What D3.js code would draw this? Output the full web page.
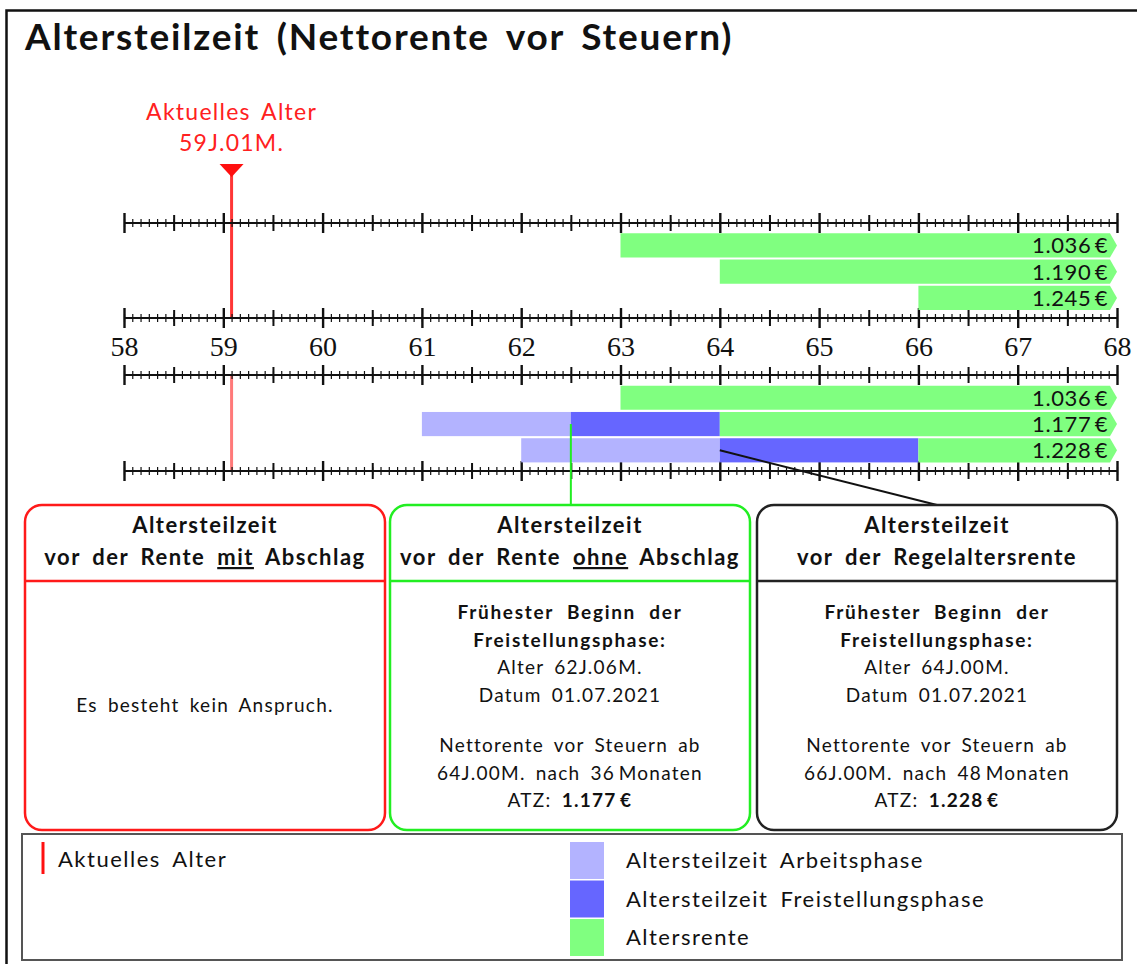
<!DOCTYPE html>
<html>
<head>
<meta charset="utf-8">
<script src="https://cdn.jsdelivr.net/npm/d3@7"></script>
<style>
  body { margin: 0; background: #fff; }
  svg { display: block; }
  text { font-family: Lato, 'Open Sans', sans-serif; fill: #111; letter-spacing: 1.25px; word-spacing: 4px; }
  .num text { font-family: 'Liberation Serif', serif; font-size: 28px; fill: #111; letter-spacing: 0; word-spacing: 0; }
</style>
</head>
<body>
<script>
// chart data
const tickYears = [58, 59, 60, 61, 62, 63, 64, 65, 66, 67, 68];
const currentAge = 59 + 1 / 12;
const currentAgeLabel = ['Aktuelles Alter', '59J.01M.'];
const endAge = 68;

// upper block: Altersrente only
const topRenteStart = [63, 64, 66];
const topRenteValue = ['1.036\u2009€', '1.190\u2009€', '1.245\u2009€'];

// lower block: Altersteilzeit + Altersrente
const atzArbeitStart = [null, 61, 62];
const atzFreiStart = [null, 62.5, 64];
const atzRenteStart = [63, 64, 66];
const atzRenteValue = ['1.036\u2009€', '1.177\u2009€', '1.228\u2009€'];

const boxTitleLines = [
  [['vor der Rente ', false], ['mit', true], [' Abschlag', false]],
  [['vor der Rente ', false], ['ohne', true], [' Abschlag', false]],
  [['vor der Regelaltersrente', false]]
];
const boxColors = ['#ff1a1a', '#22ee22', '#222'];
const beginAlter = [null, '62J.06M.', '64J.00M.'];
const beginDatum = [null, '01.07.2021', '01.07.2021'];
const renteAb = [null, '64J.00M.', '66J.00M.'];
const nachMonaten = [null, 36, 48];
const atzValue = [null, '1.177\u2009€', '1.228\u2009€'];

const legendBars = ['Altersteilzeit Arbeitsphase', 'Altersteilzeit Freistellungsphase', 'Altersrente'];
const col = { arbeit: '#b3b3ff', frei: '#6666ff', rente: '#80ff80' };
const legendColors = [col.arbeit, col.frei, col.rente];

const width = 1137, height = 964;

const svg = d3.select('body')
  .append('svg')
  .attr('width', width)
  .attr('height', height);

// outer frame (top and left only visible)
svg.append('path')
  .attr('d', 'M6.5,964 V10.5 H1137')
  .attr('fill', 'none')
  .attr('stroke', '#111')
  .attr('stroke-width', 2.5);

svg.append('text')
  .attr('x', 25)
  .attr('y', 50)
  .style('font-size', '37px')
  .style('font-weight', 'bold')
  .style('letter-spacing', '1.8px')
  .style('word-spacing', '6px')
  .text('Altersteilzeit (Nettorente vor Steuern)');

const x = d3.scaleLinear().domain([58, 68]).range([124, 1117]);

const monthTicks = d3.range(58 * 12, 68 * 12 + 1).map((m) => m / 12);
const halfTicks = d3.range(58 * 2, 68 * 2 + 1).filter((h) => h % 2).map((h) => h / 2);

function drawAxis(y) {
  const g = svg.append('g');
  [[monthTicks, 4, 1.2], [halfTicks, 8, 2], [tickYears, 10, 2.4]].forEach(function(t) {
    g.append('g')
      .attr('transform', 'translate(0,' + (y - t[1]) + ')')
      .call(d3.axisBottom(x).tickValues(t[0]).tickSize(t[1] * 2).tickFormat(''))
      .call((a) => a.select('.domain').remove())
      .selectAll('line')
      .attr('stroke', '#111')
      .attr('stroke-width', t[2]);
  });
  g.append('line')
    .attr('x1', x(58)).attr('x2', x(68))
    .attr('y1', y).attr('y2', y)
    .attr('stroke', '#111')
    .attr('stroke-width', 2);
}

const axisY = [223, 318, 375, 471];

// current age marker
svg.append('line')
  .attr('x1', x(currentAge)).attr('x2', x(currentAge))
  .attr('y1', 170).attr('y2', axisY[1])
  .attr('stroke', '#ff2020')
  .attr('stroke-opacity', 0.9)
  .attr('stroke-width', 3);
svg.append('line')
  .attr('x1', x(currentAge)).attr('x2', x(currentAge))
  .attr('y1', axisY[2]).attr('y2', axisY[3])
  .attr('stroke', '#ff2020')
  .attr('stroke-opacity', 0.6)
  .attr('stroke-width', 3);
svg.append('path')
  .attr('d', 'M' + (x(currentAge) - 12) + ',164 H' + (x(currentAge) + 12) + ' L' + x(currentAge) + ',177 Z')
  .attr('fill', '#ff1010');
svg.selectAll('.agelabel')
  .data(currentAgeLabel)
  .enter()
  .append('text')
  .attr('x', x(currentAge))
  .attr('y', (d, i) => 120 + i * 31)
  .attr('text-anchor', 'middle')
  .style('font-size', '23px')
  .style('fill', '#ff2020')
  .text((d) => d);

axisY.forEach(drawAxis);

svg.append('g')
  .attr('class', 'num')
  .attr('transform', 'translate(0,' + 334 + ')')
  .call(d3.axisBottom(x).tickValues(tickYears).tickSize(0).tickPadding(0).tickFormat(d3.format('d')))
  .call((a) => a.select('.domain').remove())
  .selectAll('text')
  .attr('dy', '0.78em');

// bars
const topRows = d3.scaleBand().domain([0, 1, 2]).range([233.3, 310]).paddingInner(0.08);
const botRows = d3.scaleBand().domain([0, 1, 2]).range([385.7, 462.4]).paddingInner(0.08);

function arrowBar(g, start, y, h) {
  const x0 = x(start), x1 = x(endAge) - 7, x2 = x(endAge);
  g.append('path')
    .attr('d', 'M' + x0 + ',' + y + ' H' + x1 + ' L' + x2 + ',' + (y + h / 2) + ' L' + x1 + ',' + (y + h) + ' H' + x0 + ' Z')
    .attr('fill', col.rente);
}

function valueLabel(g, txt, y, h) {
  g.append('text')
    .attr('x', x(endAge) - 9)
    .attr('y', y + h / 2)
    .attr('dy', '0.36em')
    .attr('text-anchor', 'end')
    .style('font-size', '22px')
    .style('letter-spacing', '0.6px')
    .text(txt);
}

const topG = svg.append('g');
topRenteStart.forEach(function(s, i) {
  arrowBar(topG, s, topRows(i), topRows.bandwidth());
  valueLabel(topG, topRenteValue[i], topRows(i), topRows.bandwidth());
});

const botG = svg.append('g');
atzRenteStart.forEach(function(s, i) {
  const y = botRows(i), h = botRows.bandwidth();
  if (atzArbeitStart[i] !== null) {
    botG.append('rect')
      .attr('x', x(atzArbeitStart[i])).attr('y', y)
      .attr('width', x(atzFreiStart[i]) - x(atzArbeitStart[i])).attr('height', h)
      .attr('fill', col.arbeit);
    botG.append('rect')
      .attr('x', x(atzFreiStart[i])).attr('y', y)
      .attr('width', x(s) - x(atzFreiStart[i])).attr('height', h)
      .attr('fill', col.frei);
  }
  arrowBar(botG, s, y, h);
  valueLabel(botG, atzRenteValue[i], y, h);
});

// boxes
const boxLeft = [25, 390, 757], boxW = 360, boxTop = 505, boxBottom = 830, boxSep = 581;

// connectors from bars to boxes
svg.append('line')
  .attr('x1', x(atzFreiStart[1])).attr('x2', x(atzFreiStart[1]))
  .attr('y1', botRows(1) + botRows.bandwidth() / 2).attr('y2', boxTop)
  .attr('stroke', '#22ee22').attr('stroke-width', 2);
svg.append('line')
  .attr('x1', x(atzFreiStart[2])).attr('x2', boxLeft[2] + boxW / 2)
  .attr('y1', botRows(2) + botRows.bandwidth() / 2).attr('y2', boxTop)
  .attr('stroke', '#111').attr('stroke-width', 2);

boxLeft.forEach(function(bx, i) {
  const g = svg.append('g');
  const cx = bx + boxW / 2;
  g.append('rect')
    .attr('x', bx).attr('y', boxTop)
    .attr('width', boxW).attr('height', boxBottom - boxTop)
    .attr('rx', 17)
    .attr('fill', 'none')
    .attr('stroke', boxColors[i])
    .attr('stroke-width', 2.5);
  g.append('line')
    .attr('x1', bx).attr('x2', bx + boxW)
    .attr('y1', boxSep).attr('y2', boxSep)
    .attr('stroke', boxColors[i])
    .attr('stroke-width', 2.5);
  g.append('text')
    .attr('x', cx).attr('y', 533)
    .attr('text-anchor', 'middle')
    .style('font-size', '22px').style('font-weight', 'bold')
    .style('letter-spacing', '1.5px')
    .text('Altersteilzeit');
  const t2 = g.append('text')
    .attr('x', cx).attr('y', 565)
    .attr('text-anchor', 'middle')
    .style('font-size', '22px').style('font-weight', 'bold')
    .style('letter-spacing', '1.5px')
    .style('word-spacing', '5px')
    .style('white-space', 'pre');
  boxTitleLines[i].forEach(function(p) {
    t2.append('tspan')
      .attr('text-decoration', p[1] ? 'underline' : null)
      .text(p[0]);
  });

  if (beginAlter[i] === null) {
    g.append('text')
      .attr('x', cx).attr('y', 712)
      .attr('text-anchor', 'middle')
      .style('font-size', '19px')
      .text('Es besteht kein Anspruch.');
    return;
  }
  const lines = [
    ['Frühester Beginn der', true, 619],
    ['Freistellungsphase:', true, 646.5],
    ['Alter ' + beginAlter[i], false, 673.5],
    ['Datum ' + beginDatum[i], false, 701.5],
    ['Nettorente vor Steuern ab', false, 752],
    [renteAb[i] + ' nach ' + nachMonaten[i] + '\u2009Monaten', false, 780]
  ];
  lines.forEach(function(l) {
    g.append('text')
      .attr('x', cx).attr('y', l[2])
      .attr('text-anchor', 'middle')
      .style('font-size', '19px')
      .style('font-weight', l[1] ? 'bold' : 'normal')
      .style('letter-spacing', l[1] ? '1.7px' : null)
      .style('word-spacing', l[1] ? '7px' : null)
      .text(l[0]);
  });
  const last = g.append('text')
    .attr('x', cx).attr('y', 807)
    .attr('text-anchor', 'middle')
    .style('font-size', '19px');
  last.append('tspan').text('ATZ: ');
  last.append('tspan').style('font-weight', 'bold').text(atzValue[i]);
});

// legend
const lg = svg.append('g');
lg.append('rect')
  .attr('x', 22).attr('y', 834)
  .attr('width', 1100).attr('height', 126)
  .attr('fill', 'none')
  .attr('stroke', '#555')
  .attr('stroke-width', 2);
lg.append('line')
  .attr('x1', 43).attr('x2', 43)
  .attr('y1', 842).attr('y2', 874)
  .attr('stroke', '#ff1010').attr('stroke-width', 3);
lg.append('text')
  .attr('x', 58).attr('y', 867)
  .style('font-size', '22px')
  .style('letter-spacing', '1.5px')
  .style('word-spacing', '5px')
  .text('Aktuelles Alter');

const legendY = d3.scaleBand().domain(legendBars).range([842, 956]).paddingInner(0.04);
lg.selectAll('.sw')
  .data(legendBars)
  .enter()
  .append('rect')
  .attr('x', 570)
  .attr('y', (d) => legendY(d))
  .attr('width', 34)
  .attr('height', legendY.bandwidth())
  .attr('fill', (d, i) => legendColors[i]);
lg.selectAll('.lt')
  .data(legendBars)
  .enter()
  .append('text')
  .attr('x', 626)
  .attr('y', (d) => legendY(d) + legendY.bandwidth() / 2)
  .attr('dy', '0.36em')
  .style('font-size', '22px')
  .style('letter-spacing', '1.5px')
  .style('word-spacing', '5px')
  .text((d) => d);
</script>
</body>
</html>
